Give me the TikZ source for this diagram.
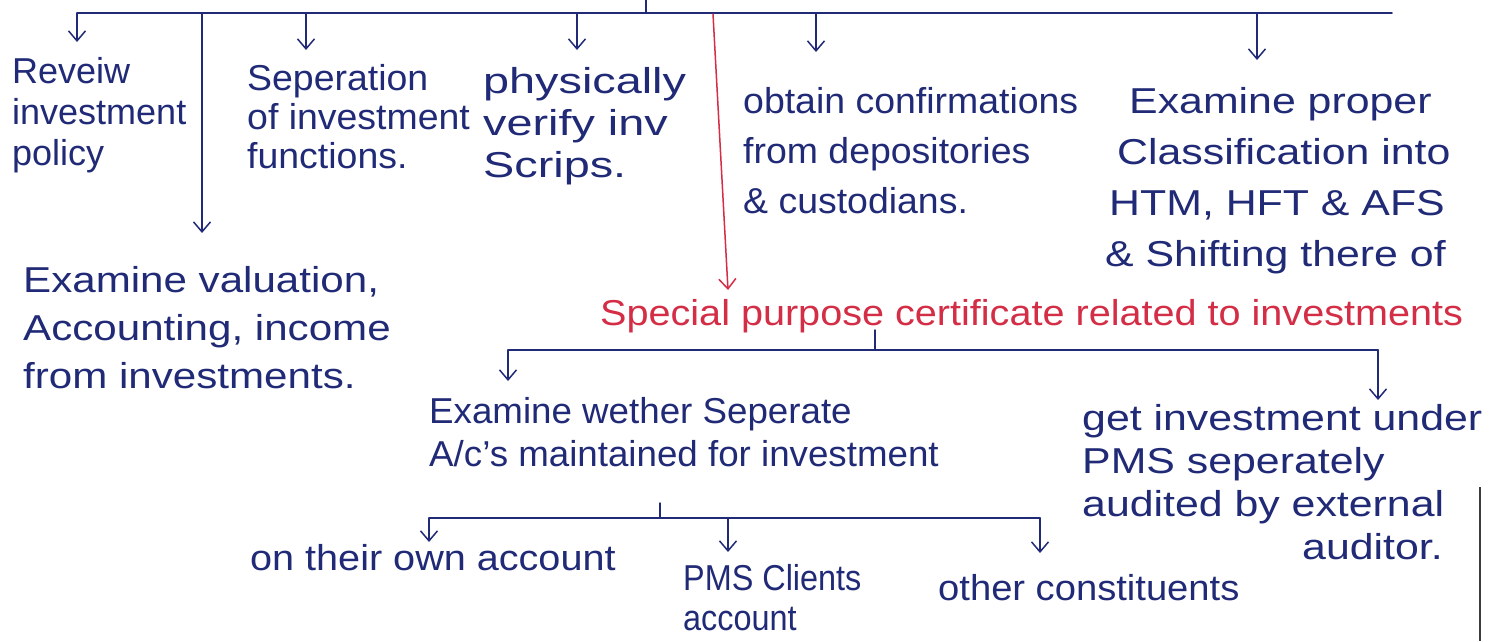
\documentclass[tikz,border=0pt]{standalone}
\usepackage{fontspec}
\setmainfont{Liberation Sans}
\usetikzlibrary{arrows.meta}
\definecolor{ink}{RGB}{32,42,118}
\definecolor{redink}{RGB}{212,45,70}
\definecolor{edgegray}{RGB}{60,60,60}
\begin{document}
\begin{tikzpicture}[x=1pt,y=-1pt,
  txt/.style 2 args={anchor=north west, align=left, inner sep=0pt, text=ink,
    font=\fontsize{36}{#1}\selectfont\addfontfeature{FakeStretch=#2}},
  ln/.style={draw=ink, line width=1.5pt, line cap=round},
  arr/.style={ln, -{Straight Barb[length=10pt,width=17pt,line width=1.5pt]}},
  redarr/.style={arr, draw=redink}]
\fill[white] (0,0) rectangle (1494,641);
\useasboundingbox (0,0) rectangle (1494,641);

% ---------- text blocks ----------
\node[txt={41}{1.0}] (rev) at (12,57) {Reveiw\\investment\\policy};
\node[txt={39}{1.04}] (sep) at (247,64) {Seperation\\of investment\\functions.};
\node[txt={42}{1.3}] (phy) at (483,67) {physically\\verify inv\\Scrips.};
\node[txt={50}{1.04}] (obt) at (743,87) {obtain confirmations\\from depositories\\\& custodians.};
\node[txt={51}{1.19}] (exa) at (1105,87) {\hspace*{24pt}Examine proper\\\hspace*{12pt}Classification into\\\hspace*{4pt}HTM, HFT \& AFS\\\& Shifting there of};
\node[txt={48}{1.17}] (val) at (23,266) {Examine valuation,\\Accounting, income\\from investments.};
\node[txt={44}{1.1}, text=redink] (spc) at (600,299) {Special purpose certificate related to investments};
\node[txt={43}{1.02}] (wet) at (429,397) {Examine wether Seperate\\A/c's maintained for investment};
\node[txt={43}{1.19}] (get) at (1082,404) {get investment under\\PMS seperately\\audited by external\\\hspace*{220pt}auditor.};
\node[txt={44}{1.1}] (own) at (250,544) {on their own account};
\node[txt={40}{0.9}] (pms) at (683,564) {PMS Clients\\account};
\node[txt={44}{1.06}] (oth) at (938,574) {other constituents};

% ---------- first level bracket ----------
\coordinate (s0) at (646,0);
\coordinate (s1) at (646,13);
\coordinate (b1L) at (77,13);
\coordinate (b1R) at (1392,13);
\draw[ln] (s0) -- (s1);
\draw[ln] (b1L) -- (b1R);
\draw[arr] (b1L) -- (77,42);
\draw[arr] (202,13) -- (202,233);
\draw[arr] (306,13) -- (306,50);
\draw[arr] (577,13) -- (577,50);
\draw[redarr] (713,14) -- (728,290);
\draw[arr] (816,13) -- (816,52);
\draw[arr] (1257,13) -- (1257,60);

% ---------- second level bracket ----------
\coordinate (s2a) at (875,330);
\coordinate (s2b) at (875,350);
\coordinate (b2L) at (508,350);
\coordinate (b2R) at (1378,350);
\draw[ln] (s2a) -- (s2b);
\draw[ln] (b2L) -- (b2R);
\draw[arr] (b2L) -- (508,381);
\draw[arr] (b2R) -- (1378,400);

% ---------- third level bracket ----------
\coordinate (s3a) at (660,503);
\coordinate (s3b) at (660,518);
\coordinate (b3L) at (429,518);
\coordinate (b3R) at (1040,518);
\draw[ln] (s3a) -- (s3b);
\draw[ln] (b3L) -- (b3R);
\draw[arr] (b3L) -- (429,542);
\draw[arr] (728,518) -- (728,552);
\draw[arr] (b3R) -- (1040,553);

% page edge
\draw[edgegray, line width=1.2pt] (1480,487) -- (1480,641);
\end{tikzpicture}
\end{document}
